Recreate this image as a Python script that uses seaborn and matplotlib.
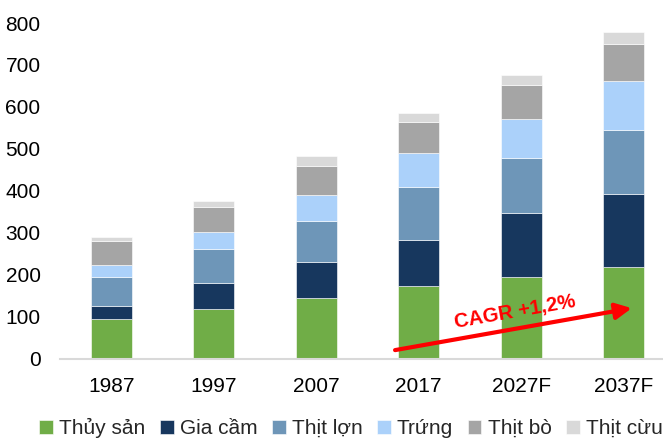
import matplotlib
matplotlib.use("Agg")
import matplotlib.pyplot as plt
import seaborn as sns
import numpy as np

years = ["1987", "1997", "2007", "2017", "2027F", "2037F"]
series_names = ["Thủy sản", "Gia cầm", "Thịt lợn", "Trứng", "Thịt bò", "Thịt cừu"]
thuy_san = [95, 118, 144, 174, 195, 219]
gia_cam = [29, 63, 85, 109, 153, 174]
thit_lon = [70, 80, 100, 127, 131, 151]
trung = [29, 40, 61, 80, 91, 118]
thit_bo = [56, 60, 70, 75, 81, 89]
thit_cuu = [10, 15, 23, 20, 25, 27]
yticks = [0, 100, 200, 300, 400, 500, 600, 700, 800]
annotation = "CAGR +1,2%"

colors = ["#70AD47", "#17375E", "#6E96B8", "#ABD1FA", "#A5A5A5", "#D9D9D9"]

sns.set_theme(style="white")
plt.rcParams["font.family"] = ["Liberation Sans", "DejaVu Sans"]

fig = plt.figure(figsize=(6.63, 4.40), dpi=100)
ax = fig.add_axes([60 / 663, 1 - 358.5 / 440, (663 - 60) / 663, (358.5 - 23) / 440])

all_series = [thuy_san, gia_cam, thit_lon, trung, thit_bo, thit_cuu]
bottom = np.zeros(len(years))
for name, vals, c in zip(series_names, all_series, colors):
    sns.barplot(x=years, y=vals, bottom=bottom.copy(), color=c, width=0.4,
                label=name, ax=ax, edgecolor="white", linewidth=0.4,
                saturation=1)
    bottom += np.array(vals)

if ax.get_legend() is not None:
    ax.get_legend().remove()

ax.set_ylim(0, 800)
ax.set_xlim(-0.5, 5.385)
ax.set_yticks(yticks)
ax.set_yticklabels([str(t) for t in yticks])
ax.tick_params(axis="both", labelsize=15, length=0, colors="black")
ax.tick_params(axis="x", pad=13)
ax.tick_params(axis="y", pad=14)
for s in ["top", "right", "left"]:
    ax.spines[s].set_visible(False)
ax.spines["bottom"].set_color("#D9D9D9")
ax.spines["bottom"].set_linewidth(1.5)
ax.grid(False)
ax.set_xlabel("")
ax.set_ylabel("")

ax.annotate("", xy=(5.08, 120), xytext=(2.77, 20),
            arrowprops=dict(arrowstyle="-|>", color="#FF0000", lw=3,
                            mutation_scale=24, shrinkA=0, shrinkB=0))
ax.text(3.94, 111, annotation, color="#FF0000", fontsize=14.5, fontweight="bold",
        rotation=10, ha="center", va="center", rotation_mode="anchor")

handles, labels = ax.get_legend_handles_labels()
leg = fig.legend(handles, labels, loc="center", bbox_to_anchor=(351 / 663, 1 - 428 / 440),
                 ncol=6, frameon=False, fontsize=15, handlelength=0.65,
                 handleheight=0.65, handletextpad=0.3, columnspacing=0.7,
                 borderaxespad=0, borderpad=0)

fig.savefig("out.png", dpi=100)
